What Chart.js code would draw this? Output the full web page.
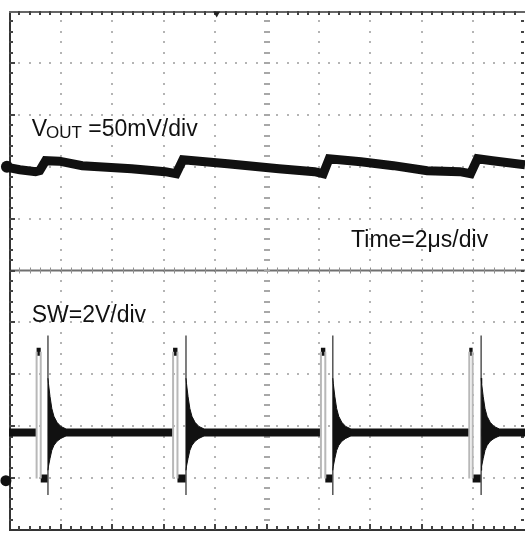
<!DOCTYPE html>
<html>
<head>
<meta charset="utf-8">
<script src="https://cdn.jsdelivr.net/npm/chart.js@4.4.1/dist/chart.umd.min.js"></script>
<style>
  html, body { margin: 0; padding: 0; background: #fff; overflow: hidden; }
  #scope { display: block; }
</style>
</head>
<body>
<canvas id="scope" width="531" height="536"></canvas>
<script>
// time base: 2us/div, 10 divisions across
const timeMin = 0;
const timeMax = 20;

// VOUT ripple, mV (50mV/div)
const voutTime = [0, 0.42, 1.03, 1.19, 1.42, 1.95, 2.84, 4.75, 6.05, 6.48, 6.74, 8.47, 10.46, 11.84, 12.18, 12.41, 13.64, 14.9, 16.21, 17.47, 17.89, 18.16, 18.74, 20];
const voutMv   = [-1, -2.9, -4.8, -3.8, 5.8, 5.3, 1, -1.9, -4.8, -6.7, 6.7, 2.9, -1.9, -4.8, -6.7, 7.7, 4.8, 1, -3.8, -4.8, -6.7, 7.7, 5.8, 1.9];

// SW node, V (2V/div): switching events per cycle (us)
const pulseRise = [1.07, 6.36, 12.09, 17.84];
const pulseFall = [1.23, 6.53, 12.26, 17.97];
const pulseRing = [1.51, 6.86, 12.55, 18.30];
const swLevels = { base: 1.86, high: 4.97, low: 0.08, spikeTop: 5.6, spikeBottom: -0.55 };

// ringing envelope after each turn-off (offset us, upper V, lower V)
const ringOffset = [0, 0.02, 0.08, 0.15, 0.23, 0.35, 0.5, 0.69];
const ringUpper  = [3.95, 3.74, 3.24, 2.78, 2.48, 2.25, 2.09, 2.0];
const ringLower  = [0.4, 0.56, 0.86, 1.17, 1.36, 1.52, 1.63, 1.72];

const GAP = { x: 0, y: null };

// build SW datasets from the arrays above
const swTrace = [];
const swEdges = [];
const swSpikes = [];
const ringHi = [];
const ringLo = [];
let prev = timeMin;
pulseRise.forEach((r, i) => {
  const f = pulseFall[i], s = pulseRing[i];
  swTrace.push({ x: prev, y: swLevels.base }, { x: r, y: swLevels.base }, GAP);
  swTrace.push({ x: r, y: swLevels.high }, { x: f, y: swLevels.high }, GAP);
  swTrace.push({ x: f, y: swLevels.low }, { x: s, y: swLevels.low }, GAP);
  swEdges.push({ x: r, y: swLevels.high }, { x: r, y: swLevels.low }, GAP);
  swEdges.push({ x: f, y: swLevels.high }, { x: f, y: swLevels.low }, GAP);
  swSpikes.push({ x: s, y: swLevels.spikeTop }, { x: s, y: swLevels.spikeBottom }, GAP);
  ringOffset.forEach((o, k) => {
    ringHi.push({ x: s + o, y: ringUpper[k] });
    ringLo.push({ x: s + o, y: ringLower[k] });
  });
  ringHi.push(GAP);
  ringLo.push(GAP);
  prev = s;
});
swTrace.push({ x: prev, y: swLevels.base }, { x: timeMax, y: swLevels.base });

const vout = voutTime.map((t, i) => ({ x: t, y: voutMv[i] }));

const scopeGrid = {
  id: 'scopeGrid',
  beforeDatasetsDraw(chart) {
    const { ctx, chartArea: a, scales } = chart;
    const x = scales.x, yd = scales.yd;
    ctx.save();
    // dotted division lines
    ctx.fillStyle = '#b4b4b4';
    for (let d = 1; d < 10; d++) {
      const px = Math.round(x.getPixelForValue(d * 2));
      const py = Math.round(yd.getPixelForValue(d - 5));
      for (let m = 1; m < 50; m++) {
        const mx = Math.round(x.getPixelForValue(m * 0.4));
        const my = Math.round(yd.getPixelForValue(-5 + m * 0.2));
        if (d !== 5) {
          ctx.fillRect(px - 1, my - 1, 2, 2);
          ctx.fillRect(mx - 1, py - 1, 2, 2);
        }
      }
    }
    // center horizontal: solid with ticks
    const cy = yd.getPixelForValue(0);
    ctx.strokeStyle = '#707070';
    ctx.lineWidth = 2;
    ctx.beginPath();
    ctx.moveTo(a.left, cy);
    ctx.lineTo(a.right, cy);
    ctx.stroke();
    ctx.lineWidth = 1;
    ctx.strokeStyle = '#909090';
    for (let m = 1; m < 50; m++) {
      const mx = Math.round(x.getPixelForValue(m * 0.4)) + 0.5;
      ctx.beginPath();
      ctx.moveTo(mx, cy - 3);
      ctx.lineTo(mx, cy + 3);
      ctx.stroke();
    }
    // center vertical: dotted ticks
    const cx = Math.round(x.getPixelForValue(10));
    ctx.fillStyle = '#a8a8a8';
    for (let m = 1; m < 50; m++) {
      const my = Math.round(yd.getPixelForValue(-5 + m * 0.2));
      ctx.fillRect(cx - 3, my - 1, 6, 2);
    }
    // frame: left, top, bottom with inward ticks
    ctx.strokeStyle = '#333';
    ctx.lineWidth = 2;
    ctx.beginPath();
    ctx.moveTo(a.left + 1, a.top);
    ctx.lineTo(a.left + 1, a.bottom);
    ctx.moveTo(a.left, a.bottom);
    ctx.lineTo(a.right, a.bottom);
    ctx.stroke();
    ctx.strokeStyle = '#666';
    ctx.beginPath();
    ctx.moveTo(a.left, a.top + 1);
    ctx.lineTo(a.right, a.top + 1);
    ctx.stroke();
    ctx.fillStyle = '#444';
    for (let m = 1; m < 50; m++) {
      const my = Math.round(yd.getPixelForValue(-5 + m * 0.2));
      const mx = Math.round(x.getPixelForValue(m * 0.4));
      const len = m % 5 === 0 ? 6 : 4;
      ctx.fillRect(a.left, my - 1, len, 2);
      ctx.fillRect(a.right - 4, my - 1, 3, 2);
      ctx.fillRect(mx - 1, a.top, 2, 4);
      ctx.fillRect(mx - 1, a.bottom - len, 2, len);
    }
    ctx.restore();
  }
};

const scopeText = {
  id: 'scopeText',
  afterDatasetsDraw(chart) {
    const { ctx, scales } = chart;
    const x = scales.x, yd = scales.yd;
    const big = '23px "Liberation Sans", Arial, sans-serif';
    const small = '17px "Liberation Sans", Arial, sans-serif';
    ctx.save();
    ctx.fillStyle = '#111';
    ctx.textBaseline = 'alphabetic';
    // VOUT label
    let lx = x.getPixelForValue(0.88);
    let ly = yd.getPixelForValue(2.6);
    ctx.font = big;
    ctx.fillText('V', lx, ly);
    lx += ctx.measureText('V').width - 1;
    ctx.font = small;
    ctx.fillText('OUT', lx, ly + 2);
    lx += ctx.measureText('OUT').width;
    ctx.font = big;
    ctx.fillText(' =50mV/div', lx, ly);
    // SW label
    ctx.fillText('SW=2V/div', x.getPixelForValue(0.88), yd.getPixelForValue(-0.99));
    // time base
    ctx.fillText('Time=2\u03bcs/div', x.getPixelForValue(13.26), yd.getPixelForValue(0.45));
    ctx.restore();
  }
};

new Chart(document.getElementById('scope'), {
  type: 'line',
  data: {
    datasets: [
      {
        label: 'SW ringing',
        data: ringHi,
        yAxisID: 'ysw',
        borderColor: '#111',
        backgroundColor: '#111',
        borderWidth: 1,
        fill: '+1',
        pointRadius: 0,
        spanGaps: false
      },
      {
        label: 'SW ringing low',
        data: ringLo,
        yAxisID: 'ysw',
        borderColor: '#111',
        borderWidth: 1,
        fill: false,
        pointRadius: 0,
        spanGaps: false
      },
      {
        label: 'SW edges',
        data: swEdges,
        yAxisID: 'ysw',
        borderColor: '#b8b8b8',
        borderWidth: 2,
        pointRadius: 0,
        spanGaps: false
      },
      {
        label: 'SW spikes',
        data: swSpikes,
        yAxisID: 'ysw',
        borderColor: '#555',
        borderWidth: 1.5,
        pointRadius: 0,
        spanGaps: false
      },
      {
        label: 'SW',
        data: swTrace,
        yAxisID: 'ysw',
        borderColor: '#111',
        borderWidth: 8,
        borderCapStyle: 'butt',
        pointRadius: 0,
        spanGaps: false
      },
      {
        label: 'VOUT',
        data: vout,
        yAxisID: 'yv',
        borderColor: '#111',
        borderWidth: 9,
        pointRadius: 0,
        tension: 0
      },
      {
        label: 'VOUT ref',
        data: [{ x: -0.08, y: 0 }],
        yAxisID: 'yv',
        showLine: false,
        pointRadius: 6,
        pointBackgroundColor: '#111',
        pointBorderWidth: 0,
        clip: false
      },
      {
        label: 'SW ref',
        data: [{ x: -0.12, y: 0 }],
        yAxisID: 'ysw',
        showLine: false,
        pointRadius: 5.5,
        pointBackgroundColor: '#111',
        pointBorderWidth: 0,
        clip: false
      },
      {
        label: 'Trigger',
        data: [{ x: 8.05, y: 4.95 }],
        yAxisID: 'yd',
        showLine: false,
        pointStyle: 'triangle',
        rotation: 180,
        pointRadius: 4,
        pointBackgroundColor: '#222',
        pointBorderWidth: 0,
        clip: false
      }
    ]
  },
  options: {
    responsive: false,
    maintainAspectRatio: false,
    animation: false,
    devicePixelRatio: 1,
    layout: { padding: { left: 9, top: 11, right: 0, bottom: 4 } },
    plugins: {
      legend: { display: false },
      tooltip: { enabled: false }
    },
    scales: {
      x: { type: 'linear', min: timeMin, max: timeMax, display: false },
      yv: { type: 'linear', min: -350, max: 150, display: false },
      ysw: { type: 'linear', min: -1.9, max: 18.1, display: false },
      yd: { type: 'linear', min: -5, max: 5, display: false }
    }
  },
  plugins: [scopeGrid, scopeText]
});
</script>
</body>
</html>
